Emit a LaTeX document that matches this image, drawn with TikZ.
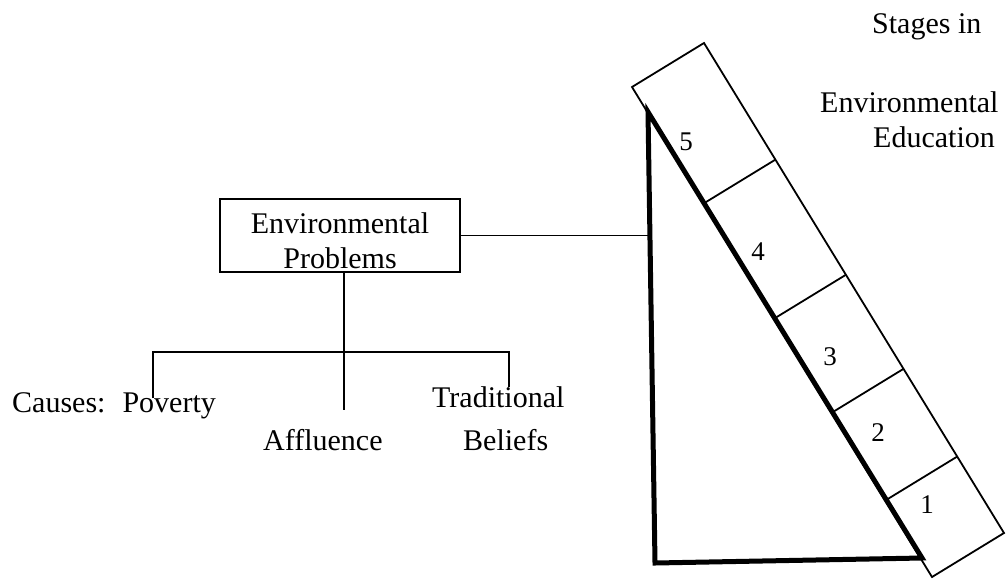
\documentclass[tikz,border=0pt]{standalone}
\usepackage{fontspec}
\setmainfont{Liberation Serif}
\usetikzlibrary{calc}
\begin{document}
\begin{tikzpicture}[x=1pt,y=-1pt,
  txt/.style={font=\fontsize{30}{34}\selectfont, inner sep=0pt, anchor=base west},
  num/.style={font=\fontsize{27}{30}\selectfont, inner sep=0pt},
  rim/.style={line width=1.8pt, line join=miter},
  conn/.style={line width=1.8pt},
  heavy/.style={line width=5pt, line join=miter}]
\useasboundingbox (0,0) rectangle (1008,579);
% tilted ladder of stages
\coordinate (A) at (632,87);
\coordinate (B) at (704,43);
\coordinate (C) at (1004,533);
\coordinate (D) at (932,577);
\draw[rim] (A) -- (B) -- (C) -- (D) -- cycle;
\foreach \t in {0.238,0.473,0.665,0.844}{
  \draw[rim] ($(A)!\t!(D)$) -- ($(B)!\t!(C)$);
}
% triangle
\coordinate (T1) at (648,112);
\coordinate (T2) at (655,563);
\coordinate (T3) at (922,558);
\draw[heavy] (T1) -- (T2) -- (T3) -- cycle;
\coordinate (J) at ($(T1)!0.275!(T2)$);
% numbers
\node[num] (n5) at (686,142) {5};
\node[num] (n4) at (758,252) {4};
\node[num] (n3) at (830,357) {3};
\node[num] (n2) at (878,433) {2};
\node[num] (n1) at (927,505) {1};
% title
\node[txt] (s1) at (872,33) {Stages in};
\node[txt] (s2) at (820,112) {Environmental};
\node[txt] (s3) at (873,147) {Education};
% problems box
\node[draw, line width=1.5pt, minimum width=240pt, minimum height=73pt, inner sep=0pt] (prob) at (340,235.5) {};
\node[txt, anchor=base] (pt1) at (340,233) {Environmental};
\node[txt, anchor=base] (pt2) at (340,268) {Problems};
\draw[conn] (prob.east) -- (prob.east -| J);
% causes tree
\coordinate (hub) at (344,352);
\coordinate (pL) at (153,352);
\coordinate (pR) at (509,352);
\coordinate (pLend) at (153,398);
\coordinate (pRend) at (509,387);
\coordinate (cEnd) at (344,410);
\draw[conn] (prob.south -| hub) -- (cEnd);
\draw[conn] (pLend) -- (pL) -- (pR) -- (pRend);
\node[txt] (causes) at (12,412) {Causes:\hspace{17pt}Poverty};
\node[txt] (aff) at (263,450) {Affluence};
\node[txt] (trad) at (432,407) {Traditional};
\node[txt] (bel) at (463,450) {Beliefs};
\end{tikzpicture}
\end{document}
